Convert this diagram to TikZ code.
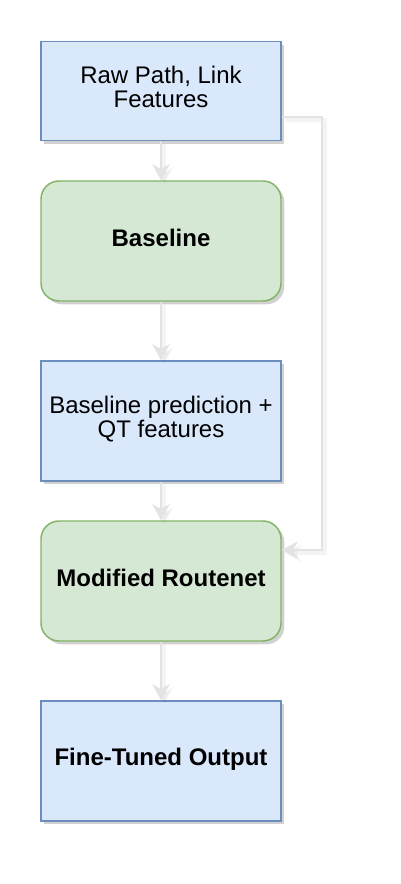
\documentclass[tikz,border=0pt]{standalone}
\usepackage{fontspec}
\setmainfont{Liberation Sans}
\usetikzlibrary{arrows.meta,positioning,calc,shadows}
\definecolor{bluefill}{HTML}{DAE8FC}
\definecolor{blueline}{HTML}{6C8EBF}
\definecolor{greenfill}{HTML}{D5E8D4}
\definecolor{greenline}{HTML}{82B366}
\definecolor{flowgrey}{HTML}{E3E3E3}

\tikzset{
    boxshadow/.style={drop shadow={shadow xshift=2.5pt, shadow yshift=-2.5pt, opacity=0.18, fill=black}},
    databox/.style={draw=blueline, fill=bluefill, line width=1.1pt, minimum width=180pt, minimum height=90pt,
        align=center, text depth=6pt, font=\fontsize{18}{18}\selectfont, boxshadow},
    modelbox/.style={draw=greenline, fill=greenfill, line width=1.1pt, rounded corners=13.5pt, minimum width=180pt,
        minimum height=90pt, align=center, text depth=5pt, font=\fontsize{18}{18}\selectfont\bfseries, boxshadow},
    flow/.style={->, draw=flowgrey, line width=1.6pt, >={Stealth[length=12pt, width=13pt, inset=3.5pt]},
        preaction={draw=black, opacity=0.045, line width=3pt, transform canvas={shift={(2.5pt,-2.5pt)}}}},
}

\begin{document}
\begin{tikzpicture}[x=0.75pt, y=-0.75pt]

    % canvas
    \useasboundingbox (0,0) rectangle (400,884);

    % Input features
    \node[databox, minimum height=74pt] (raw) at (161,91) {Raw Path, Link\\Features};

    % Baseline model
    \node[modelbox] (base) at (161,241) {Baseline};

    % Baseline output with QT features
    \node[databox] (pred) at (161,421) {Baseline prediction +\\QT features};

    % Modified model
    \node[modelbox] (mod) at (161,581) {Modified Routenet};

    % Final output
    \node[databox, font=\fontsize{18}{18}\selectfont\bfseries] (out) at (161,761) {Fine-Tuned Output};

    % Main flow
    \draw[flow] (raw) -- (base);
    \draw[flow] (base) -- (pred);
    \draw[flow] (pred) -- (mod);
    \draw[flow] (mod) -- (out);

    % Skip connection of raw features
    \draw[flow] ($(raw.east)+(0,26)$) -- ++(40,0) |- ($(mod.east)+(0,-31)$);

\end{tikzpicture}
\end{document}
